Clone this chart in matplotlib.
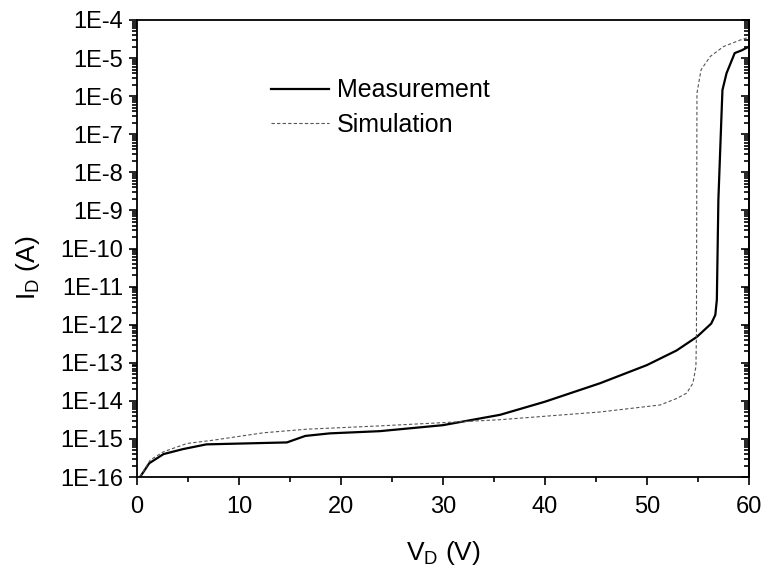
import numpy as np
import matplotlib
matplotlib.use("Agg")
import matplotlib.pyplot as plt
from matplotlib.ticker import LogLocator, FuncFormatter, MultipleLocator, NullFormatter

plt.rcParams["font.family"] = ["Liberation Sans", "DejaVu Sans"]
plt.rcParams["mathtext.fontset"] = "custom"
plt.rcParams["mathtext.rm"] = "Liberation Sans"
plt.rcParams["mathtext.it"] = "Liberation Sans"

# measured drain current vs drain voltage
meas_v = [0.3, 1.2, 2.6, 4.5, 6.8, 14.7, 16.5, 18.9, 23.8, 30.0, 35.6, 40.0, 45.4,
          50.0, 52.9, 54.9, 56.3, 56.7, 56.85, 57.0, 57.3, 57.4, 57.8, 58.6, 59.3, 60.0]
meas_i = [1e-16, 2.3e-16, 4.0e-16, 5.4e-16, 7.2e-16, 8.1e-16, 1.2e-15, 1.4e-15, 1.6e-15,
          2.3e-15, 4.3e-15, 9.5e-15, 2.9e-14, 8.7e-14, 2.1e-13, 4.8e-13, 1.07e-12, 1.8e-12,
          4.5e-12, 1.9e-9, 2.9e-7, 1.45e-6, 4.0e-6, 1.35e-5, 1.6e-5, 2.0e-5]

# simulated drain current
sim_v = [0.3, 1.3, 2.6, 4.9, 7.5, 12.4, 16.6, 23.8, 35.6, 45.4, 51.3, 52.9, 53.9,
         54.5, 54.8, 54.85, 54.9, 55.3, 56.2, 57.5, 59.1, 60.0]
sim_i = [1e-16, 2.8e-16, 4.6e-16, 7.6e-16, 9.3e-16, 1.45e-15, 1.8e-15, 2.2e-15, 3.2e-15,
         5.1e-15, 7.8e-15, 1.15e-14, 1.6e-14, 2.9e-14, 7.9e-14, 6.0e-13, 1.2e-6, 4.9e-6,
         1.1e-5, 2.0e-5, 2.95e-5, 3.55e-5]

fig = plt.figure(figsize=(7.67, 5.66), dpi=100)
ax = fig.add_axes([0.1786, 0.1572, 0.7979, 0.8075])

ax.plot(meas_v, meas_i, color="black", lw=1.6, label="Measurement")
ax.plot(sim_v, sim_i, color="#555555", lw=0.8, dashes=(3, 2), label="Simulation")

ax.set_yscale("log")
ax.set_xlim(0, 60)
ax.set_ylim(1e-16, 1e-4)

ax.xaxis.set_major_locator(MultipleLocator(10))
ax.xaxis.set_minor_locator(MultipleLocator(5))
ax.yaxis.set_major_locator(LogLocator(base=10, numticks=20))
ax.yaxis.set_minor_locator(LogLocator(base=10, subs=np.arange(2, 10), numticks=20))
ax.yaxis.set_major_formatter(FuncFormatter(lambda v, p: "1E%d" % round(np.log10(v))))
ax.yaxis.set_minor_formatter(NullFormatter())

ax.tick_params(which="both", direction="out", width=1.2, labelsize=17, top=False, right=False)
ax.tick_params(which="major", length=6)
ax.tick_params(which="minor", length=3.5)
ax.tick_params(axis="x", which="major", pad=7.5)
ax.tick_params(axis="y", which="major", pad=4)
for s in ax.spines.values():
    s.set_linewidth(1.3)

sec = ax.secondary_yaxis("right")
sec.yaxis.set_major_locator(LogLocator(base=10, numticks=20))
sec.yaxis.set_minor_locator(LogLocator(base=10, subs=np.arange(2, 10), numticks=20))
sec.tick_params(which="both", direction="in", width=1.2, labelright=False)
sec.tick_params(which="major", length=6)
sec.tick_params(which="minor", length=3.5)
sec.spines["right"].set_linewidth(1.3)

ax.set_xlabel("V$_\\mathrm{D}$ (V)", fontsize=19, labelpad=15.5)
ax.set_ylabel("I$_\\mathrm{D}$ (A)", fontsize=19, labelpad=13)
ax.yaxis.label.set_y(0.457)

ax.legend(loc="upper left", bbox_to_anchor=(0.219, 0.872), frameon=False, fontsize=18,
          handlelength=2.3, handletextpad=0.32, labelspacing=0.42,
          borderpad=0, borderaxespad=0)

fig.savefig("out.png", dpi=100)
